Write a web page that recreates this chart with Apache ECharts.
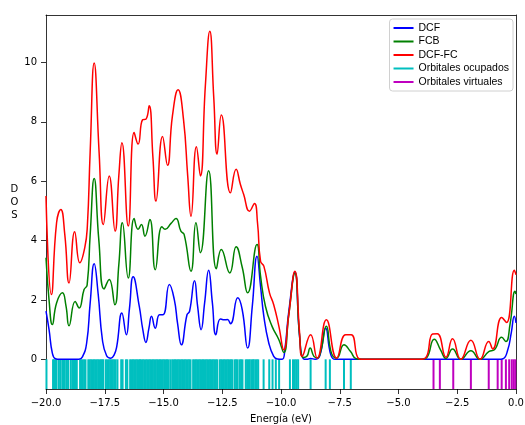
<!DOCTYPE html>
<html>

<head>
    <meta charset="utf-8" />
    <script src="https://cdn.jsdelivr.net/npm/echarts@6/dist/echarts.min.js"></script>
</head>

<body style="margin:0">
    <div id="main" style="width:525px;height:425px"></div>

    <script type="text/javascript">
        // DOS curves, [energy (eV), DOS]
        const dcf = [
            [-20.0, 1.62], [-19.87, 1.0], [-19.73, 0.21], [-19.6, 0.02], [-19.4, 0], [-18.6, 0], [-18.45, 0.08],
            [-18.27, 0.55], [-18.12, 1.9], [-17.95, 3.22], [-17.78, 2.2], [-17.6, 0.66], [-17.42, 0.12],
            [-17.24, 0.04], [-17.1, 0.15], [-16.99, 0.43], [-16.77, 1.56], [-16.58, 0.83], [-16.45, 1.7],
            [-16.29, 2.78], [-16.03, 1.78], [-15.88, 1.0], [-15.75, 0.57], [-15.62, 1.05], [-15.51, 1.45],
            [-15.35, 1.05], [-15.17, 1.5], [-15.02, 1.5], [-14.75, 2.52], [-14.54, 2.01], [-14.4, 1.2],
            [-14.24, 0.49], [-14.0, 1.5], [-13.89, 1.62], [-13.68, 2.65], [-13.55, 1.8], [-13.40, 1.0],
            [-13.25, 1.9], [-13.08, 3.0], [-12.92, 1.9], [-12.77, 0.83], [-12.58, 1.36], [-12.41, 1.33],
            [-12.28, 1.34], [-12.15, 1.2], [-11.84, 2.07], [-11.65, 1.67], [-11.42, 0.38], [-11.22, 1.8],
            [-11.02, 3.47], [-10.87, 2.46], [-10.73, 1.45], [-10.52, 0.55], [-10.31, 0.1], [-10.15, 0.01],
            [-9.95, 0], [-9.84, 0.3], [-9.67, 1.6], [-9.41, 2.93], [-9.21, 0.77], [-9.05, 0.02], [-8.9, 0],
            [-8.74, 0.03], [-8.55, 0], [-8.35, 0.12], [-8.1, 1.05], [-7.88, 0.15], [-7.7, 0], [-7.5, 0],
            [-0.75, 0], [-0.55, 0.02], [-0.35, 0.32], [-0.2, 0.9], [-0.07, 1.45], [0, 1.23]
        ];
        const fcb = [
            [-20, 3.42], [-19.87, 2.0], [-19.73, 1.17], [-19.55, 1.9], [-19.30, 2.24], [-19.15, 1.8],
            [-19.02, 1.13], [-18.76, 1.95], [-18.59, 1.73], [-18.38, 2.35], [-18.25, 2.5], [-18.12, 4.2],
            [-17.95, 6.09], [-17.75, 4.0], [-17.53, 2.37], [-17.31, 2.69], [-17.07, 1.84], [-16.9, 3.2],
            [-16.75, 4.6], [-16.50, 2.74], [-16.25, 4.74], [-16.08, 4.38], [-15.94, 4.54], [-15.79, 4.15],
            [-15.58, 4.71], [-15.35, 3.02], [-15.07, 4.47], [-14.93, 4.38], [-14.68, 4.58], [-14.47, 4.74],
            [-14.26, 4.32], [-14.12, 4.2], [-13.83, 2.97], [-13.62, 4.6], [-13.43, 3.59], [-13.08, 6.35],
            [-12.75, 3.05], [-12.54, 3.7], [-12.18, 2.91], [-11.91, 3.79], [-11.65, 3.1], [-11.42, 2.24],
            [-11.02, 3.87], [-10.87, 2.8], [-10.66, 1.78], [-10.38, 1.11], [-10.09, 0.66], [-9.88, 0.23],
            [-9.67, 1.5], [-9.41, 2.9], [-9.21, 0.8], [-9.05, 0.06], [-8.9, 0.1], [-8.76, 0.38], [-8.6, 0.1],
            [-8.45, 0.05], [-8.3, 0.3], [-8.07, 1.11], [-7.85, 0.2], [-7.63, 0.04], [-7.32, 0.49],
            [-7.04, 0.26], [-6.8, 0.02], [-6.5, 0], [-4.0, 0], [-3.8, 0.05], [-3.48, 0.68], [-3.2, 0.3],
            [-2.98, 0.03], [-2.70, 0.35], [-2.35, 0], [-1.92, 0.29], [-1.53, 0], [-1.16, 0.26],
            [-0.92, 0.32], [-0.61, 0.74], [-0.43, 0.6], [-0.25, 1.2], [-0.04, 2.29], [0, 2.2]
        ];
        const dcfFc = [
            [-20, 5.5], [-19.77, 2.18], [-19.55, 4.6], [-19.37, 5.05], [-19.2, 4.2], [-19.02, 2.57],
            [-18.78, 4.3], [-18.56, 3.25], [-18.35, 3.76], [-18.24, 4.49], [-18.12, 7.0], [-17.95, 9.98],
            [-17.74, 6.97], [-17.56, 4.54], [-17.31, 6.18], [-17.06, 4.32], [-16.9, 6.2], [-16.77, 7.3],
            [-16.50, 4.49], [-16.25, 7.64], [-16.08, 7.25], [-15.89, 8.07], [-15.75, 8.09], [-15.61, 8.54],
            [-15.45, 6.8], [-15.32, 5.33], [-15.04, 7.51], [-14.83, 6.54], [-14.62, 8.2], [-14.38, 9.08],
            [-14.15, 8.09], [-13.97, 6.18], [-13.83, 4.82], [-13.60, 7.16], [-13.43, 6.18], [-13.22, 9.2],
            [-13.03, 11.05], [-12.86, 8.8], [-12.72, 6.91], [-12.54, 8.23], [-12.15, 5.61], [-11.91, 6.4],
            [-11.73, 5.9], [-11.59, 5.56], [-11.34, 4.99], [-11.13, 5.25], [-11.0, 4.6], [-10.87, 3.3],
            [-10.73, 3.14], [-10.49, 2.24], [-10.31, 1.84], [-10.09, 1.11], [-9.88, 0.32], [-9.67, 1.5],
            [-9.41, 2.97], [-9.21, 0.9], [-9.10, 0.1], [-8.74, 0.83], [-8.46, 0.04], [-8.07, 1.33],
            [-7.63, 0.04], [-7.25, 0.83], [-7.01, 0.83], [-6.68, 0.02], [-6.4, 0], [-4.1, 0], [-3.84, 0.05],
            [-3.55, 0.85], [-3.35, 0.86], [-2.98, 0.07], [-2.70, 0.69], [-2.35, 0], [-1.92, 0.64],
            [-1.53, 0], [-1.16, 0.6], [-0.99, 0.35], [-0.61, 1.41], [-0.40, 1.24], [-0.07, 3.0], [0, 2.85]
        ];

        // orbital energies (eV)
        const occupied = [
            -19.98, -19.70, -19.66, -19.59, -19.55, -19.45, -19.38, -19.30, -19.25, -19.20, -19.12, -19.06,
            -18.95, -18.88, -18.84, -18.78, -18.73, -18.69, -18.55, -18.50, -18.45, -18.38, -18.32,
            -18.20, -18.14, -18.08, -18.02, -17.96, -17.90, -17.84, -17.78, -17.72, -17.66, -17.60, -17.56,
            -17.45, -17.39, -17.33, -17.27, -17.22, -17.16, -17.10, -17.04,
            -16.96, -16.80, -16.74, -16.60, -16.54,
            -16.42, -16.36, -16.30, -16.24, -16.18, -16.12, -16.06, -16.00, -15.94, -15.88, -15.82,
            -15.75, -15.69, -15.63, -15.57, -15.51, -15.45, -15.39, -15.33, -15.27,
            -15.21, -15.15, -15.09, -15.03, -14.97, -14.91, -14.85, -14.79, -14.71,
            -14.63, -14.57, -14.51, -14.45, -14.39, -14.33, -14.27, -14.21, -14.15, -14.09, -14.03, -13.97,
            -13.91, -13.85, -13.74, -13.68, -13.62, -13.56, -13.50, -13.44, -13.38, -13.32, -13.26, -13.20,
            -13.14, -13.08, -13.02, -12.96, -12.90, -12.84, -12.78, -12.72, -12.61, -12.55, -12.49, -12.43,
            -12.37, -12.31, -12.25, -12.19, -12.13, -12.07, -11.97, -11.91, -11.85, -11.76, -11.70, -11.64,
            -11.50, -11.44, -11.38, -11.33, -11.26, -11.20, -11.16, -11.09, -11.03, -10.97,
            -10.74, -10.50, -10.36, -10.22, -10.08, -9.62, -9.49, -9.41, -9.34, -9.27, -8.74, -8.10, -7.92,
            -7.32, -7.03
        ];
        const virtual = [
            -3.51, -3.24, -2.67, -1.92, -1.16, -0.78, -0.61, -0.43, -0.29, -0.18, -0.10, -0.03
        ];

        const xTicks = { min: -20, max: 0, interval: 2.5 };
        const yRange = { min: -1, max: 11.6 };
        const yTicks = [0, 2, 4, 6, 8, 10];

        function orbitalLines(params, api) {
            var p0 = api.coord([api.value(0), -1]);
            var p1 = api.coord([api.value(0), 0]);
            return {
                type: 'line',
                shape: { x1: p0[0], y1: p0[1], x2: p1[0], y2: p1[1] },
                style: { stroke: api.visual('color'), lineWidth: 2 }
            };
        }

        var chart = echarts.init(document.getElementById('main'), null, { renderer: 'canvas' });
        var axisFont = { fontFamily: 'DejaVu Sans', fontSize: 10, color: '#000' };
        var spine = { show: true, onZero: false, lineStyle: { color: '#000', width: 0.8 } };
        // top / right spines, matplotlib style box
        var frameX = {
            type: 'value', position: 'top', min: xTicks.min, max: xTicks.max,
            axisLine: spine, axisTick: { show: false }, axisLabel: { show: false }, splitLine: { show: false }
        };
        var frameY = {
            type: 'value', position: 'right', min: yRange.min, max: yRange.max,
            axisLine: spine, axisTick: { show: false }, axisLabel: { show: false }, splitLine: { show: false }
        };
        chart.setOption({
            animation: false,
            color: ['#0000ff', '#008000', '#ff0000', '#00bfbf', '#bf00bf'],
            grid: {
                left: 46, right: 9, top: 15, bottom: 36,
                outerBoundsMode: 'none',
                containLabel: false
            },
            legend: {
                orient: 'vertical',
                right: 12,
                top: 19,
                icon: 'rect',
                itemWidth: 20,
                itemHeight: 2,
                itemGap: 1.5,
                padding: [3, 4, 3, 4],
                backgroundColor: '#fff',
                borderColor: '#d0d0d0',
                borderWidth: 1,
                borderRadius: 3,
                textStyle: { fontFamily: 'Liberation Sans', fontSize: 10.5, lineHeight: 12, color: '#000' },
                data: ['DCF', 'FCB', 'DCF-FC', 'Orbitales ocupados', 'Orbitales virtuales']
            },
            xAxis: [{
                type: 'value',
                position: 'bottom',
                min: xTicks.min,
                max: xTicks.max,
                interval: xTicks.interval,
                name: 'Energía (eV)',
                nameLocation: 'middle',
                nameGap: 25,
                nameTextStyle: axisFont,
                axisLine: spine,
                axisTick: { length: 5, lineStyle: { color: '#000', width: 0.8 } },
                axisLabel: Object.assign({
                    margin: 9,
                    formatter: v => (v < 0 ? '\u2212' : '') + Math.abs(v).toFixed(1)
                }, axisFont),
                splitLine: { show: false }
            }, frameX],
            yAxis: [{
                type: 'value',
                position: 'left',
                min: yRange.min,
                max: yRange.max,
                name: 'D\nO\nS',
                nameLocation: 'middle',
                nameRotate: 0,
                nameGap: 31,
                nameTextStyle: Object.assign({ lineHeight: 13, align: 'center', verticalAlign: 'middle', padding: [6, 0, 0, 0] }, axisFont),
                axisLine: spine,
                axisTick: { show: true, length: 5, customValues: yTicks, lineStyle: { color: '#000', width: 0.8 } },
                axisLabel: Object.assign({ margin: 9, customValues: yTicks }, axisFont),
                splitLine: { show: false }
            }, frameY],
            series: [
                {
                    type: 'line', name: 'DCF', data: dcf, smooth: 0.5, showSymbol: false,
                    lineStyle: { color: '#0000ff', width: 1.5 }, z: 3
                },
                {
                    type: 'line', name: 'FCB', data: fcb, smooth: 0.5, showSymbol: false,
                    lineStyle: { color: '#008000', width: 1.5 }, z: 4
                },
                {
                    type: 'line', name: 'DCF-FC', data: dcfFc, smooth: 0.5, showSymbol: false,
                    lineStyle: { color: '#ff0000', width: 1.5 }, z: 5
                },
                {
                    type: 'custom', name: 'Orbitales ocupados', renderItem: orbitalLines,
                    itemStyle: { color: '#00bfbf' },
                    data: occupied.map(e => [e, 0]), encode: { x: 0, y: 1 }, z: 2
                },
                {
                    type: 'custom', name: 'Orbitales virtuales', renderItem: orbitalLines,
                    itemStyle: { color: '#bf00bf' },
                    data: virtual.map(e => [e, 0]), encode: { x: 0, y: 1 }, z: 2
                }
            ]
        });
    </script>
</body>

</html>
